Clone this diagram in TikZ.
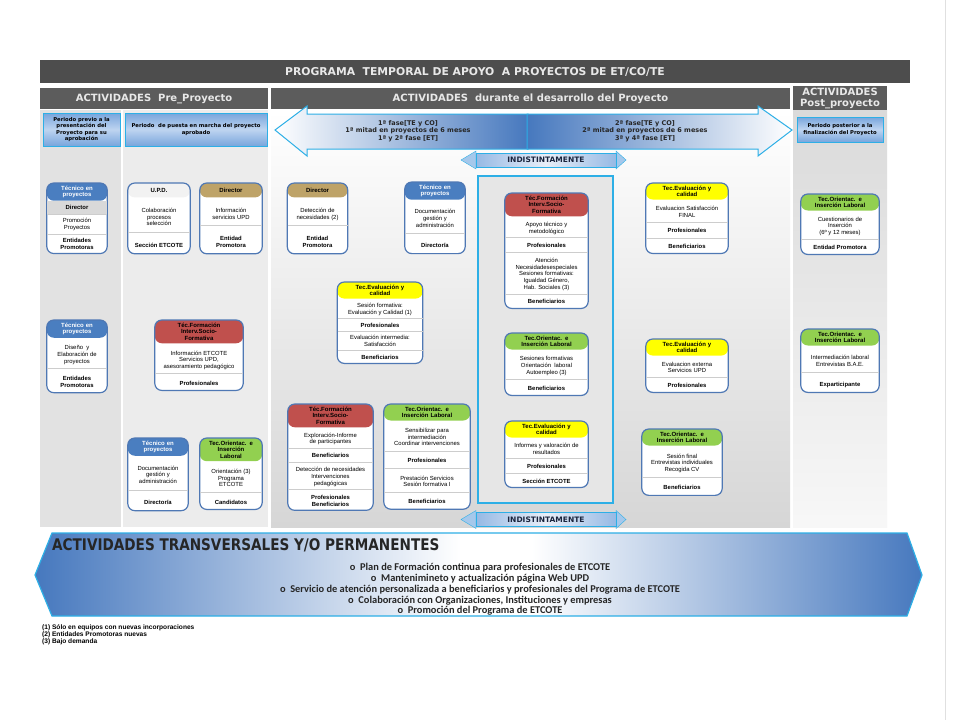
\documentclass[tikz,border=0pt]{standalone}
\usepackage{fontspec}
\setmainfont{Liberation Sans}
\newfontfamily\headfont{DejaVu Sans}
\newfontfamily\bannerfont{DejaVu Sans}[FakeStretch=0.85]
\newfontfamily\listfont{Carlito}
\usepackage{array,colortbl}
\usetikzlibrary{shapes,positioning,fit,backgrounds}

\definecolor{barDark}{RGB}{77,77,77}
\definecolor{barText}{RGB}{232,232,232}
\definecolor{secDark}{RGB}{92,92,92}
\definecolor{colGray}{RGB}{226,226,226}
\definecolor{colLight}{RGB}{236,236,236}
\definecolor{midGray}{RGB}{214,214,214}
\definecolor{postGray}{RGB}{218,218,218}
\definecolor{frameGray}{RGB}{230,230,230}
\definecolor{cardLine}{RGB}{79,120,180}
\definecolor{cyanLine}{RGB}{45,175,230}
\definecolor{arrowBlue}{RGB}{70,120,190}
\definecolor{perBlue}{RGB}{120,165,220}
\definecolor{perLight}{RGB}{190,212,240}
\definecolor{barBlue}{RGB}{150,185,228}
\definecolor{barLight}{RGB}{232,238,248}
\definecolor{headBlue}{RGB}{165,200,235}
\definecolor{navyText}{RGB}{25,35,60}
\definecolor{hBlue}{RGB}{74,126,192}
\definecolor{hRed}{RGB}{192,80,77}
\definecolor{hTan}{RGB}{190,163,104}
\definecolor{hGreen}{RGB}{146,208,80}
\definecolor{hYellow}{RGB}{255,255,0}
\definecolor{hWhite}{RGB}{242,242,242}
\definecolor{rowGray}{RGB}{217,217,217}
\definecolor{sepGray}{RGB}{205,205,205}

\pgfdeclarehorizontalshading{bannershade}{100bp}{color(0bp)=(arrowBlue); color(25bp)=(arrowBlue); color(49bp)=(white); color(53bp)=(white); color(75bp)=(arrowBlue); color(100bp)=(arrowBlue)}

\setlength\tabcolsep{0pt}
\arrayrulecolor{sepGray}

% card: [header text colour]{name}{top centre}{width}{row stretch}{header colour}{header}{rows}
\newcommand{\card}[8][black]{%
  \node[chead, text=#1, text width=#4pt-4pt, anchor=north] (#2h) at (#3) {#7};
  \node[cbody, anchor=north] (#2b) at (#2h.south) {\def\arraystretch{#5}\begin{tabular}{>{\centering\arraybackslash}p{#4pt}}#8\end{tabular}};
  \begin{pgfonlayer}{background}
    \node[cframe, fit=(#2h)(#2b), path picture={\fill[#6] (#2h.north west) rectangle (#2h.south east);}] (#2) {};
  \end{pgfonlayer}
}

\begin{document}
\begin{tikzpicture}[x=1pt,y=-1pt]
  \tikzstyle{topbar} = [rectangle, fill=barDark, text=barText, font=\headfont\bfseries\fontsize{10.8}{12}\selectfont, inner sep=0]
  \tikzstyle{sechead} = [rectangle, fill=secDark, text=barText, font=\headfont\bfseries\fontsize{10}{11}\selectfont, inner sep=0, align=center]
  \tikzstyle{period} = [rectangle, draw=cyanLine, line width=1pt, top color=perBlue, bottom color=perBlue, middle color=perLight, font=\headfont\bfseries\fontsize{5.3}{6.4}\selectfont, align=center, inner sep=1pt]
  \tikzstyle{phase} = [font=\headfont\bfseries\fontsize{6.5}{7.5}\selectfont, align=center, text=black!85]
  \tikzstyle{anybar} = [rectangle, draw=cyanLine, line width=1pt, left color=barBlue, right color=barBlue, middle color=barLight, font=\headfont\bfseries\fontsize{7.5}{8}\selectfont, text=navyText, minimum width=140, minimum height=14, inner sep=0]
  \tikzstyle{chead} = [rectangle, inner xsep=2pt, inner ysep=2.5pt, minimum height=14, align=center, font=\bfseries\fontsize{6}{6.7}\selectfont]
  \tikzstyle{cbody} = [rectangle, inner sep=0, font=\fontsize{5.9}{6.7}\selectfont]
  \tikzstyle{cframe} = [rectangle, draw=cardLine, line width=1.2pt, fill=white, rounded corners=7pt, inner sep=0]
  \tikzstyle{note} = [anchor=west, inner sep=0, font=\bfseries\fontsize{6.6}{7}\selectfont, align=left]

  \begin{pgfonlayer}{background}
    \fill[white] (0,0) rectangle (960,720);
    \fill[colGray] (40,110) rectangle (121,527);
    \fill[colLight] (123,110) rectangle (268,527);
    \shade[top color=white, bottom color=midGray] (271,110) rectangle (790,527);
    \shade[top color=postGray, bottom color=white!97!black] (793,110) rectangle (887,527);
    \node[draw=cyanLine, line width=1.5pt, fill=frameGray, minimum width=135, minimum height=327, inner sep=0] (core) at (545.5,339.5) {};
  \end{pgfonlayer}
  \useasboundingbox (0,0) rectangle (960,720);
  \draw[black!12] (945,0) -- (945,720);

  % headings
  \node[topbar, minimum width=870, minimum height=23] (title) at (475,71.5) {PROGRAMA\ \ TEMPORAL DE APOYO\ \ A PROYECTOS DE ET/CO/TE};
  \node[sechead, minimum width=228, minimum height=21] (pre) at (154,98.5) {ACTIVIDADES\ \ Pre\_Proyecto};
  \node[sechead, minimum width=519, minimum height=21] (during) at (530.5,98.5) {ACTIVIDADES\ \ durante el desarrollo del Proyecto};
  \node[sechead, minimum width=94, minimum height=24] (post) at (840,98) {ACTIVIDADES\\Post\_proyecto};

  \node[period, minimum width=77, minimum height=33] (perA) at (81.5,129.5) {Periodo previo a la\\presentación del\\Proyecto para su\\aprobación};
  \node[period, minimum width=142, minimum height=33] (perB) at (196,129.5) {Periodo\ \ de puesta en marcha del proyecto\\aprobado};
  \node[period, minimum width=86, minimum height=25] (perC) at (840,129.5) {Periodo posterior a la\\finalización del Proyecto};

  % phases
  \path[draw=cyanLine, line width=1pt, left color=white, right color=arrowBlue] (275,130) -- (307,106) -- (307,114) -- (528,114) -- (528,149) -- (307,149) -- (307,156) -- cycle;
  \path[draw=cyanLine, line width=1pt, left color=arrowBlue, right color=white] (527,114) -- (758,114) -- (758,106) -- (792,130) -- (758,156) -- (758,149) -- (527,149) -- cycle;
  \node[phase] (phaseA) at (408,131) {1ª fase[TE y CO]\\1ª mitad en proyectos de 6 meses\\1ª y 2ª fase [ET]};
  \node[phase] (phaseB) at (645,131) {2ª fase[TE y CO]\\2ª mitad en proyectos de 6 meses\\3ª y 4ª fase [ET]};

  \foreach \n/\y in {indA/160, indB/519.5} {
    \path[draw=cyanLine, fill=headBlue] (461,\y) -- (476,\y-9) -- (476,\y+9) -- cycle;
    \path[draw=cyanLine, fill=headBlue] (626,\y) -- (616,\y-9) -- (616,\y+9) -- cycle;
    \node[anybar] (\n) at (546,\y) {INDISTINTAMENTE};
  }

  % pre proyecto
  \card[white]{tecA}{77,183}{60}{1.9}{hBlue}{Técnico en\\proyectos}{\cellcolor{rowGray}\bfseries Director\\\hline Promoción\par Proyectos\\\hline \bfseries Entidades\par Promotoras}
  \card[white]{tecB}{77,320}{60}{2.54}{hBlue}{Técnico en\\proyectos}{Diseño\ \ y\par Elaboración de\par proyectos\\\hline \bfseries Entidades\par Promotoras}
  \card{upd}{159,183}{62}{3.15}{hWhite}{U.P.D.}{Colaboración\par procesos\par selección\\\hline \bfseries Sección ETCOTE}
  \card{dirA}{231,183}{62}{3.15}{hTan}{Director}{Información\par servicios UPD\\\hline \bfseries Entidad\par Promotora}
  \card{forA}{199,320}{88}{2.46}{hRed}{Téc.Formación\\Interv.Socio-\\Formativa}{Información ETCOTE\par Servicios UPD,\par asesoramiento pedagógico\\\hline \bfseries Profesionales}
  \card[white]{tecC}{158,438}{60}{3.04}{hBlue}{Técnico en\\proyectos}{Documentación\par gestión y\par administración\\\hline \bfseries Director/a}
  \card{oriA}{231,438}{62}{2.54}{hGreen}{Tec.Orientac. e\\Inserción\\Laboral}{Orientación (3)\par Programa\par ETCOTE\\\hline \bfseries Candidatos}

  % durante el proyecto
  \card{dirB}{317.5,183}{60}{3.15}{hTan}{Director}{Detección de\par necesidades (2)\\\hline \bfseries Entidad\par Promotora}
  \card[white]{tecD}{435,182}{60}{2.96}{hBlue}{Técnico en\\proyectos}{Documentación\par gestión y\par administración\\\hline \bfseries Director/a}
  \card{evaA}{380,282}{85}{1.86}{hYellow}{Tec.Evaluación y\\calidad}{Sesión formativa:\par Evaluación y Calidad (1)\\\hline \bfseries Profesionales\\\hline Evaluación intermedia:\par Satisfacción\\\hline \bfseries Beneficiarios}
  \card{forB}{330.5,404}{85}{2.04}{hRed}{Téc.Formación\\Interv.Socio-\\Formativa}{Exploración-Informe\par de participantes\\\hline \bfseries Beneficiarios\\\hline Detección de necesidades\par Intervenciones\par pedagógicas\\\hline \bfseries Profesionales\par Beneficiarios}
  \card{oriB}{427,404}{86}{2.5}{hGreen}{Tec.Orientac. e\\Inserción Laboral}{Sensibilizar para\par intermediación\par Coordinar intervenciones\\\hline \bfseries Profesionales\\\hline Prestación Servicios\par Sesión formativa I\\\hline \bfseries Beneficiarios}
  \card{forC}{546.5,193}{83}{2.13}{hRed}{Téc.Formación\\Interv.Socio-\\Formativa}{Apoyo técnico y\par metodológico\\\hline \bfseries Profesionales\\\hline Atención\par Necesidadesespeciales\par Sesiones formativas:\par Igualdad Género,\par Hab. Sociales (3)\\\hline \bfseries Beneficiarios}
  \card{oriC}{546.5,333}{83}{2.37}{hGreen}{Tec.Orientac. e\\Inserción Laboral}{Sesiones formativas\par Orientación\ \ laboral\par Autoempleo (3)\\\hline \bfseries Beneficiarios}
  \card{evaB}{546.5,421}{83}{2.09}{hYellow}{Tec.Evaluación y\\calidad}{Informes y valoración de\par resultados\\\hline \bfseries Profesionales\\\hline \bfseries Sección ETCOTE}
  \card{evaC}{687,183}{82}{2.29}{hYellow}{Tec.Evaluación y\\calidad}{Evaluacion Satisfacción\par FINAL\\\hline \bfseries Profesionales\\\hline \bfseries Beneficiarios}
  \card{evaD}{687,339}{82}{2.19}{hYellow}{Tec.Evaluación y\\calidad}{Evaluacion externa\par Servicios UPD\\\hline \bfseries Profesionales}
  \card{oriD}{682,429}{80}{2.66}{hGreen}{Tec.Orientac. e\\Inserción Laboral}{Sesión final\par Entrevistas individuales\par Recogida CV\\\hline \bfseries Beneficiarios}

  % post proyecto
  \card{oriE}{840,194}{78}{2.22}{hGreen}{Tec.Orientac. e\\Inserción Laboral}{Cuestionarios de\par Inserción\par (6º y 12 meses)\\\hline \bfseries Entidad Promotora}
  \card{oriF}{840,329}{78}{2.94}{hGreen}{Tec.Orientac. e\\Inserción Laboral}{Intermediación laboral\par Entrevistas B.A.E.\\\hline \bfseries Exparticipante}

  % transversales
  \path[draw=cyanLine, line width=1.2pt, shading=bannershade] (35,575) -- (52,533) -- (907,533) -- (922,575) -- (907,616) -- (52,616) -- cycle;
  \node[anchor=west, inner sep=0, font=\bannerfont\bfseries\fontsize{16}{18}\selectfont, text=black!85] (trans) at (52,545) {ACTIVIDADES TRANSVERSALES Y/O PERMANENTES};
  \node[align=center, font=\listfont\bfseries\fontsize{10.4}{10.75}\selectfont, text=black!85] (tasks) at (480,589.5) {o\ \ Plan de Formación continua para profesionales de ETCOTE\\o\ \ Mantenimineto y actualización página Web UPD\\o\ \ Servicio de atención personalizada a beneficiarios y profesionales del Programa de ETCOTE\\o\ \ Colaboración con Organizaciones, Instituciones y empresas\\o\ \ Promoción del Programa de ETCOTE};

  \node[note] (notes) at (42,635) {(1) Sólo en equipos con nuevas incorporaciones\\(2) Entidades Promotoras nuevas\\(3) Bajo demanda};
\end{tikzpicture}
\end{document}
